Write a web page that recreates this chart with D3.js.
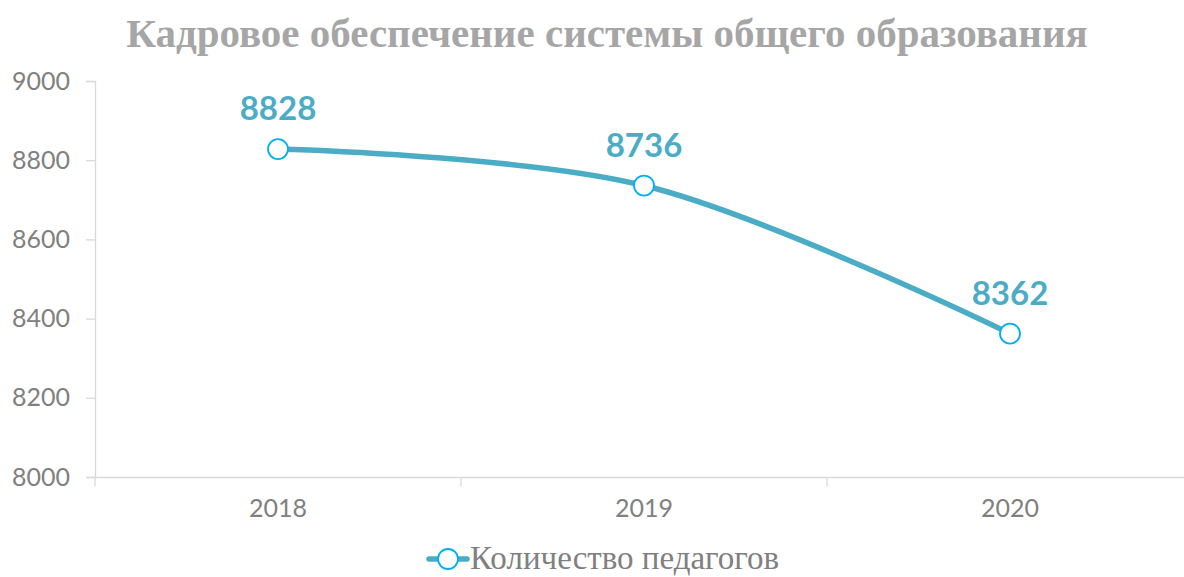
<!DOCTYPE html>
<html><head><meta charset="utf-8">
<script src="https://cdn.jsdelivr.net/npm/d3@7"></script>
<style>body{margin:0;background:#fff}svg{display:block}</style>
</head><body>
<script>
const categories = ["2018", "2019", "2020"];
const seriesName = "Количество педагогов";
const values = [8828, 8736, 8362];
const yTicks = [8000, 8200, 8400, 8600, 8800, 9000];
const title = "Кадровое обеспечение системы общего образования";

(function () {
const W = 1184, H = 577;
const svg = d3.select("body").append("svg").attr("width", W).attr("height", H);
const pLeft = 95, pRight = 1193, pTop = 81, pBottom = 477;
const x = d3.scaleBand().domain(categories).range([pLeft, pRight]);
const y = d3.scaleLinear().domain([8000, 9000]).range([pBottom, pTop]);
const lineColor = "#4bacc6", markerColor = "#00b0f0", axisColor = "#d9d9d9", textGray = "#808080";
const numFont = "Lato, 'Open Sans', sans-serif";

svg.append("text").attr("x", 607).attr("y", 47).attr("text-anchor", "middle")
  .attr("font-family", "'Liberation Serif', 'Times New Roman', serif").attr("font-weight", "bold")
  .attr("font-size", 41).attr("fill", "#a6a6a6").text(title);

// Y axis
const yAxis = svg.append("g").attr("transform", `translate(${pLeft},0)`)
  .call(d3.axisLeft(y).tickValues(yTicks).tickSize(9).tickPadding(16).tickFormat(d3.format("d")));
yAxis.select(".domain").attr("stroke", axisColor).attr("stroke-width", 1.3);
yAxis.selectAll(".tick line").attr("stroke", axisColor).attr("stroke-width", 1.3);
yAxis.selectAll(".tick text").attr("fill", textGray).attr("font-size", 25).attr("font-family", numFont);

// X axis
const xAxis = svg.append("g").attr("transform", `translate(0,${pBottom})`)
  .call(d3.axisBottom(x).tickSize(0).tickPadding(22));
xAxis.select(".domain").attr("stroke", axisColor).attr("stroke-width", 1.3);
xAxis.selectAll(".tick text").attr("fill", textGray).attr("font-size", 25).attr("font-family", numFont);
const bounds = categories.map(c => x(c)).concat([pRight]);
svg.append("g").selectAll("line").data(bounds).join("line")
  .attr("x1", d => d).attr("x2", d => d).attr("y1", pBottom).attr("y2", pBottom + 9)
  .attr("stroke", axisColor).attr("stroke-width", 1.3);

const pts = categories.map((c, i) => ({c, v: values[i], px: x(c) + x.bandwidth() / 2, py: y(values[i])}));
const line = d3.line().x(d => d.px).y(d => d.py).curve(d3.curveCatmullRom.alpha(0.5));
svg.append("path").datum(pts).attr("d", line).attr("fill", "none")
  .attr("stroke", lineColor).attr("stroke-width", 5.5).attr("stroke-linecap", "round");
svg.append("g").selectAll("circle").data(pts).join("circle")
  .attr("cx", d => d.px).attr("cy", d => d.py).attr("r", 10)
  .attr("fill", "#fff").attr("stroke", markerColor).attr("stroke-width", 1.8);
svg.append("g").selectAll("text").data(pts).join("text")
  .attr("x", d => d.px).attr("y", d => d.py - 29).attr("text-anchor", "middle")
  .attr("font-family", numFont).attr("font-weight", "bold").attr("font-size", 33)
  .attr("fill", lineColor).text(d => d3.format("d")(d.v));

// Legend
const lg = svg.append("g").attr("transform", "translate(448,559)");
lg.append("line").attr("x1", -19).attr("x2", 19).attr("stroke", lineColor).attr("stroke-width", 5.5).attr("stroke-linecap", "round");
lg.append("circle").attr("r", 10).attr("fill", "#fff").attr("stroke", markerColor).attr("stroke-width", 1.8);
lg.append("text").attr("x", 22).attr("y", 10).attr("font-family", "'Liberation Serif', 'Times New Roman', serif")
  .attr("font-size", 33).attr("fill", textGray).text(seriesName);
})();
</script>
</body></html>
